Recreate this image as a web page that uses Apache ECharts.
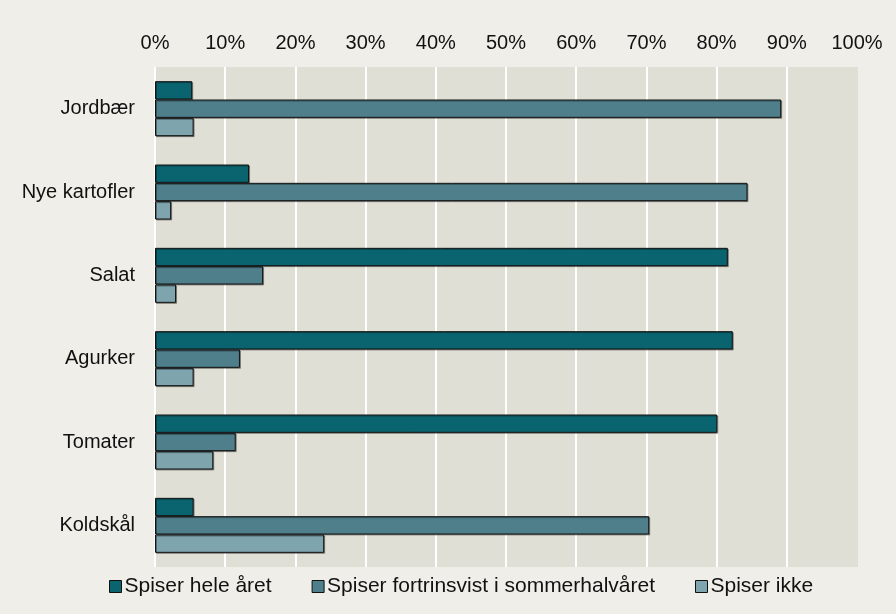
<!DOCTYPE html>
<html>
<head>
<meta charset="utf-8">
<script src="https://cdn.jsdelivr.net/npm/echarts@6/dist/echarts.min.js"></script>
<style>
html,body{margin:0;padding:0;background:#efeee8;}
#chart{width:896px;height:614px;}
</style>
</head>
<body>
<div id="chart"></div>
<script>
var categories = ['Jordbær', 'Nye kartofler', 'Salat', 'Agurker', 'Tomater', 'Koldskål'];
var seriesNames = ['Spiser hele året', 'Spiser fortrinsvist i sommerhalvåret', 'Spiser ikke'];
var heleAaret = [5.3, 13.4, 81.6, 82.3, 80.1, 5.5];
var sommerhalvaaret = [89.2, 84.4, 15.4, 12.1, 11.5, 70.4];
var spiserIkke = [5.5, 2.3, 3.0, 5.5, 8.3, 24.1];
var tickLabels = ['0%', '10%', '20%', '30%', '40%', '50%', '60%', '70%', '80%', '90%', '100%'];

var colors = ['#0a6470', '#4f7f8b', '#7ea5ae'];
var font = 'Liberation Sans, Arial, Helvetica, sans-serif';
var chart = echarts.init(document.getElementById('chart'));

function barSeries(name, data, color) {
  return {
    name: name,
    type: 'bar',
    data: data,
    barGap: '0%',
    barCategoryGap: '34%',
    itemStyle: {
      color: color,
      borderColor: '#111',
      borderWidth: 1,
      shadowColor: 'rgba(0,0,0,0.35)',
      shadowOffsetX: 1,
      shadowOffsetY: 1,
      shadowBlur: 0
    },
    emphasis: { disabled: true }
  };
}

var splitColors = [];
for (var i = 0; i < tickLabels.length; i++) {
  splitColors.push(i === tickLabels.length - 1 ? '#e0dfd5' : '#ffffff');
}

chart.setOption({
  backgroundColor: '#efeee8',
  animation: false,
  textStyle: { fontFamily: font },
  grid: {
    left: 155, right: 39, top: 67, bottom: 47,
    show: true, backgroundColor: '#e0dfd5', borderWidth: 0
  },
  legend: {
    bottom: 12,
    left: 104,
    itemWidth: 12,
    itemHeight: 12,
    itemGap: 40,
    icon: 'rect',
    textStyle: { fontSize: 21, color: '#111', fontFamily: font, padding: [0, 0, 0, -2] },
    itemStyle: { borderColor: '#111', borderWidth: 1 },
    data: seriesNames
  },
  xAxis: {
    type: 'value',
    position: 'top',
    min: 0,
    max: 100,
    interval: 10,
    axisLine: { show: false },
    axisTick: { show: false },
    axisLabel: {
      fontSize: 20,
      color: '#111',
      margin: 14,
      formatter: function (v) { return tickLabels[Math.round(v / 10)]; }
    },
    splitLine: { show: true, lineStyle: { color: splitColors, width: 2 } }
  },
  yAxis: {
    type: 'category',
    inverse: true,
    data: categories,
    axisLine: { show: false },
    axisTick: { show: false },
    axisLabel: { fontSize: 20, color: '#111', margin: 20 }
  },
  series: [
    barSeries(seriesNames[0], heleAaret, colors[0]),
    barSeries(seriesNames[1], sommerhalvaaret, colors[1]),
    barSeries(seriesNames[2], spiserIkke, colors[2])
  ]
});
</script>
</body>
</html>
